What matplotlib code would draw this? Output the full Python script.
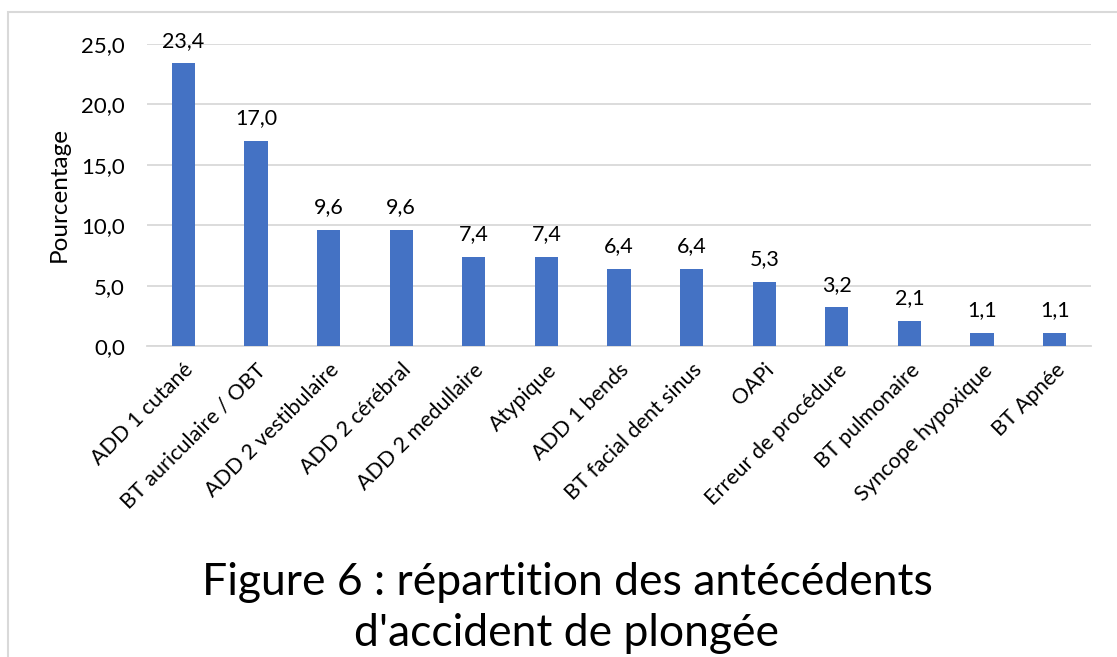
import matplotlib
matplotlib.use("Agg")
import matplotlib.pyplot as plt
from matplotlib.patches import Rectangle

categories = ["ADD 1 cutané", "BT auriculaire / OBT", "ADD 2 vestibulaire", "ADD 2 cérébral",
              "ADD 2 medullaire", "Atypique", "ADD 1 bends", "BT facial dent sinus", "OAPi",
              "Erreur de procédure", "BT pulmonaire", "Syncope hypoxique", "BT Apnée"]
values = [23.4, 17.0, 9.6, 9.6, 7.4, 7.4, 6.4, 6.4, 5.3, 3.2, 2.1, 1.1, 1.1]
yticks = [0, 5, 10, 15, 20, 25]
ylabel = "Pourcentage"
title = "Figure 6 : répartition des antécédents\nd'accident de plongée"

plt.rcParams['font.family'] = ['Lato', 'DejaVu Sans']

W, H = 1117, 657
fig = plt.figure(figsize=(W/100, H/100), dpi=100)
ax = fig.add_axes([147/W, 1-346/H, (1091-147)/W, (346-44)/H])

x = range(len(categories))
ax.bar(x, values, width=0.32, color="#4472C4", zorder=3)
ax.set_xlim(-0.5, len(categories)-0.5)
ax.set_ylim(0, 25)
ax.set_yticks(yticks)
ax.set_yticklabels([f"{v:.1f}".replace(".", ",") for v in yticks], fontsize=16)
ax.yaxis.grid(True, color="#D9D9D9", linewidth=1.3, zorder=0)
for s in ["top", "right", "left"]:
    ax.spines[s].set_visible(False)
ax.spines["bottom"].set_color("#D9D9D9")
ax.spines["bottom"].set_linewidth(1.3)
ax.tick_params(axis="y", length=0, pad=16)
ax.set_xticks(list(x))
ax.set_xticklabels(categories, rotation=45, ha="right", rotation_mode="anchor", fontsize=15.5)
ax.tick_params(axis="x", length=0, pad=10)
ax.set_ylabel(ylabel, fontsize=17.5, labelpad=8)

for i, v in enumerate(values):
    ax.annotate(f"{v:.1f}".replace(".", ","), (i, v), xytext=(0, 9), textcoords="offset points",
                ha="center", va="bottom", fontsize=15.5)

fig.text(567/W, 1-608/H, title, ha="center", va="center", fontsize=32, linespacing=1.3)

fig.add_artist(Rectangle((8/W, -0.1), 1.2, 1-12/H+0.1, transform=fig.transFigure,
                         fill=False, edgecolor="#D9D9D9", linewidth=1.5))

fig.savefig("out.png", dpi=100)
